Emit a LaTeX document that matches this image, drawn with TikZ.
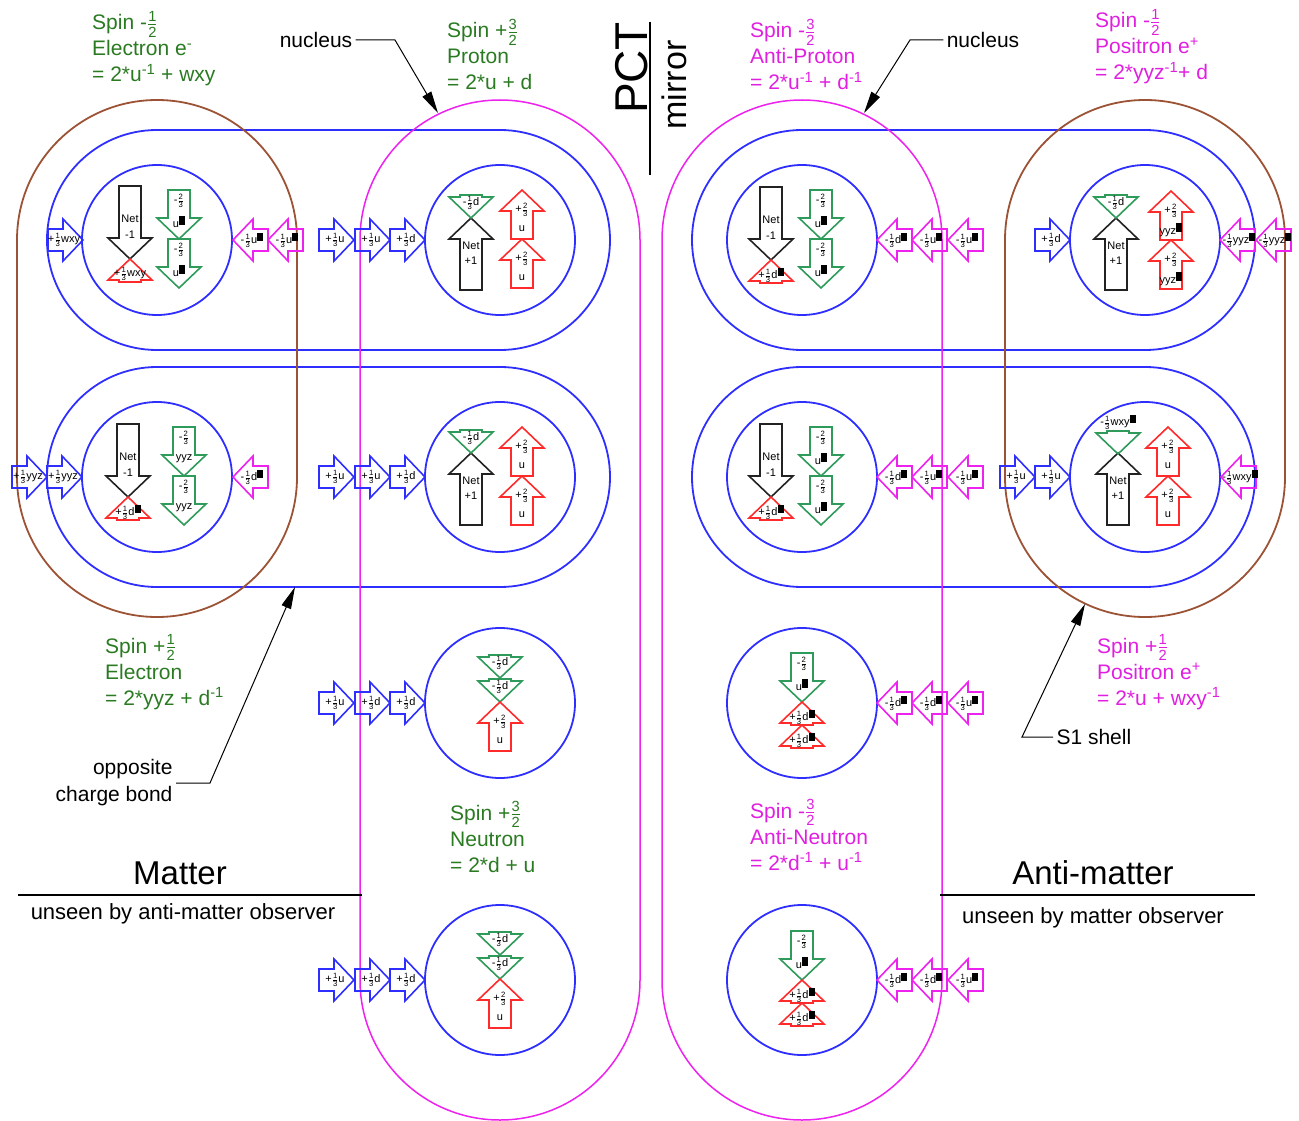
\documentclass[tikz,border=0pt]{standalone}
\usepackage{amsmath}
\usepackage{fontspec}
\setmainfont{Liberation Sans}
\usetikzlibrary{arrows.meta, positioning}
\definecolor{shellblue}{HTML}{2E2EFF}
\definecolor{nucmag}{HTML}{EE22EE}
\definecolor{bondbrown}{HTML}{9C5234}
\definecolor{qgreen}{HTML}{2E9B5A}
\definecolor{qred}{HTML}{FF2B2B}
\definecolor{netgray}{HTML}{222222}
\definecolor{mattergreen}{HTML}{2A7A22}
\definecolor{antimag}{HTML}{E01FE0}

\newcounter{qlbl}
\newcommand{\fr}[2]{\ensuremath{\genfrac{}{}{}{1}{\textrm{#1}}{\textrm{#2}}}}
\newcommand{\blk}{\rule[0.25em]{0.55em}{0.75em}}

\tikzset{
  qline/.style={line width=1.6pt, line join=miter},
  qtxt/.style={font=\fontsize{11}{12}\selectfont, inner sep=0pt},
  spintxt/.style={font=\fontsize{21}{24}\selectfont, inner sep=0pt, anchor=base west},
  plaintxt/.style={font=\fontsize{21}{27}\selectfont},
  shell/.style={shellblue, line width=1.8pt},
  nucleus/.style={nucmag, line width=1.5pt},
  bond/.style={bondbrown, line width=1.8pt},
  leader/.style={line width=1pt, -{Triangle[length=22pt,width=10pt]}}
}

% quark arrow pointing up: x, tip y, colour, upper text, lower text
\newcommand{\quarkup}[5]{%
  \stepcounter{qlbl}%
  \draw[qline,#3] (#1,#2) -- ++(22,21) -- ++(-11,0) -- ++(0,28) -- ++(-22,0) -- ++(0,-28) -- ++(-11,0) -- cycle;
  \path (#1,#2) ++(0,20) node[qtxt] (qa\arabic{qlbl}) {#4} ++(0,19) node[qtxt] (qb\arabic{qlbl}) {#5};}
% quark arrow pointing down: x, top y, colour, upper text, lower text
\newcommand{\quarkdown}[5]{%
  \stepcounter{qlbl}%
  \draw[qline,#3] (#1,#2) ++(-11,0) -- ++(22,0) -- ++(0,28) -- ++(11,0) -- ++(-22,21) -- ++(-22,-21) -- ++(11,0) -- cycle;
  \path (#1,#2) ++(0,11) node[qtxt] (qa\arabic{qlbl}) {#4} ++(0,21) node[qtxt] (qb\arabic{qlbl}) {#5};}
% net spin arrows: x, tip/top y, sign
\newcommand{\netup}[3]{%
  \stepcounter{qlbl}%
  \draw[qline,netgray] (#1,#2) -- ++(22,21) -- ++(-11,0) -- ++(0,51) -- ++(-22,0) -- ++(0,-51) -- ++(-11,0) -- cycle;
  \path (#1,#2) ++(0,28) node[qtxt] (qa\arabic{qlbl}) {Net} ++(0,15) node[qtxt] (qb\arabic{qlbl}) {#3};}
\newcommand{\netdown}[3]{%
  \stepcounter{qlbl}%
  \draw[qline,netgray] (#1,#2) ++(-11,0) -- ++(22,0) -- ++(0,52) -- ++(11,0) -- ++(-22,21) -- ++(-22,-21) -- ++(11,0) -- cycle;
  \path (#1,#2) ++(0,33) node[qtxt] (qa\arabic{qlbl}) {Net} ++(0,16) node[qtxt] (qb\arabic{qlbl}) {#3};}
% flat triangles: x, top/apex y, colour, text
\newcommand{\tridown}[4]{%
  \stepcounter{qlbl}%
  \draw[qline,#3] (#1,#2) ++(-11,0) -- ++(22,0) -- ++(0,2) -- ++(11,0) -- ++(-22,21) -- ++(-22,-21) -- ++(11,0) -- cycle;
  \path (#1,#2) ++(0,8) node[qtxt] (qa\arabic{qlbl}) {#4};}
\newcommand{\triup}[4]{%
  \stepcounter{qlbl}%
  \draw[qline,#3] (#1,#2) -- ++(22,21) -- ++(-11,0) -- ++(0,2) -- ++(-22,0) -- ++(0,-2) -- ++(-11,0) -- cycle;
  \path (#1,#2) ++(0,15) node[qtxt] (qa\arabic{qlbl}) {#4};}
% exchange arrows: tip x, y, colour, text
\newcommand{\sideR}[4]{%
  \stepcounter{qlbl}%
  \draw[qline,#3] (#1,#2) -- ++(-20,-21) -- ++(0,10) -- ++(-15,0) -- ++(0,22) -- ++(15,0) -- ++(0,10) -- cycle;
  \path (#1,#2) ++(-19,0) node[qtxt] (qa\arabic{qlbl}) {#4};}
\newcommand{\sideL}[4]{%
  \stepcounter{qlbl}%
  \draw[qline,#3] (#1,#2) -- ++(20,-21) -- ++(0,10) -- ++(15,0) -- ++(0,22) -- ++(-15,0) -- ++(0,10) -- cycle;
  \path (#1,#2) ++(19,0) node[qtxt] (qa\arabic{qlbl}) {#4};}
% three line particle label: name, x, baseline y, colour, lines
\newcommand{\spinlabel}[7]{%
  \path (#2,#3) node[spintxt,#4] (#1a) {#5} ++(0,26) node[spintxt,#4] (#1b) {#6} ++(0,26) node[spintxt,#4] (#1c) {#7};}

\begin{document}
\begin{tikzpicture}[x=1pt, y=-1pt]
\useasboundingbox (0,0) rectangle (1299,1121);

% shells and bonds
\draw[shell, rounded corners=109.9pt] (47,130) rectangle (610,350);
\draw[shell, rounded corners=109.9pt] (47,367) rectangle (610,587);
\draw[shell, rounded corners=109.9pt] (692,130) rectangle (1255,350);
\draw[shell, rounded corners=109.9pt] (692,367) rectangle (1255,587);
\draw[bond, rounded corners=139.9pt] (17,100) rectangle (297,617);
\draw[bond, rounded corners=139.9pt] (1005,100) rectangle (1285,617);
\draw[nucleus, rounded corners=139.9pt] (360,100) rectangle (640,1120);
\draw[nucleus, rounded corners=139.9pt] (662,100) rectangle (942,1120);

\foreach \cx/\cy in {157/240, 157/477, 500/240, 500/477, 500/703, 500/980,
                     802/240, 802/477, 802/703, 802/980, 1145/240, 1145/477}
  \draw[shell] (\cx,\cy) circle[radius=75pt];

% electron (top)
\netdown{130}{186}{-1}
\triup{130}{259}{qred}{+\fr13wxy}
\quarkdown{179}{190}{qgreen}{-\fr23}{u\blk}
\quarkdown{179}{239}{qgreen}{-\fr23}{u\blk}
\sideR{83}{240}{shellblue}{+\fr13wxy}
\sideL{233}{240}{nucmag}{-\fr13u\blk}
\sideL{268}{240}{nucmag}{-\fr13u\blk}

% electron (bottom)
\netdown{128}{424}{-1}
\triup{128}{497}{qred}{+\fr13d\blk}
\quarkdown{184}{427}{qgreen}{-\fr23}{yyz}
\quarkdown{184}{476}{qgreen}{-\fr23}{yyz}
\sideR{47}{477}{shellblue}{+\fr13yyz}
\sideR{82}{477}{shellblue}{+\fr13yyz}
\sideL{233}{477}{nucmag}{-\fr13d\blk}

% protons
\netup{471}{218}{+1}
\tridown{471}{195}{qgreen}{-\fr13d}
\quarkup{522}{190}{qred}{+\fr23}{u}
\quarkup{522}{239}{qred}{+\fr23}{u}
\sideR{354}{240}{shellblue}{+\fr13u}
\sideR{390}{240}{shellblue}{+\fr13u}
\sideR{425}{240}{shellblue}{+\fr13d}

\netup{471}{453}{+1}
\tridown{471}{430}{qgreen}{-\fr13d}
\quarkup{522}{427}{qred}{+\fr23}{u}
\quarkup{522}{476}{qred}{+\fr23}{u}
\sideR{354}{477}{shellblue}{+\fr13u}
\sideR{390}{477}{shellblue}{+\fr13u}
\sideR{425}{477}{shellblue}{+\fr13d}

% neutrons
\tridown{500}{655}{qgreen}{-\fr13d}
\tridown{500}{679}{qgreen}{-\fr13d}
\quarkup{500}{702}{qred}{+\fr23}{u}
\sideR{354}{703}{shellblue}{+\fr13u}
\sideR{390}{703}{shellblue}{+\fr13d}
\sideR{425}{703}{shellblue}{+\fr13d}

\tridown{500}{932}{qgreen}{-\fr13d}
\tridown{500}{956}{qgreen}{-\fr13d}
\quarkup{500}{979}{qred}{+\fr23}{u}
\sideR{354}{980}{shellblue}{+\fr13u}
\sideR{390}{980}{shellblue}{+\fr13d}
\sideR{425}{980}{shellblue}{+\fr13d}

% anti-protons
\netdown{771}{187}{-1}
\triup{771}{260}{qred}{+\fr13d\blk}
\quarkdown{821}{190}{qgreen}{-\fr23}{u\blk}
\quarkdown{821}{239}{qgreen}{-\fr23}{u\blk}
\sideL{877}{240}{nucmag}{-\fr13d\blk}
\sideL{912}{240}{nucmag}{-\fr13u\blk}
\sideL{948}{240}{nucmag}{-\fr13u\blk}

\netdown{771}{424}{-1}
\triup{771}{497}{qred}{+\fr13d\blk}
\quarkdown{821}{427}{qgreen}{-\fr23}{u\blk}
\quarkdown{821}{476}{qgreen}{-\fr23}{u\blk}
\sideL{877}{477}{nucmag}{-\fr13d\blk}
\sideL{912}{477}{nucmag}{-\fr13u\blk}
\sideL{948}{477}{nucmag}{-\fr13u\blk}

% anti-neutrons
\quarkdown{802}{653}{qgreen}{-\fr23}{u\blk}
\triup{802}{702}{qred}{+\fr13d\blk}
\triup{802}{725}{qred}{+\fr13d\blk}
\sideL{877}{703}{nucmag}{-\fr13d\blk}
\sideL{912}{703}{nucmag}{-\fr13d\blk}
\sideL{948}{703}{nucmag}{-\fr13u\blk}

\quarkdown{802}{931}{qgreen}{-\fr23}{u\blk}
\triup{802}{980}{qred}{+\fr13d\blk}
\triup{802}{1003}{qred}{+\fr13d\blk}
\sideL{877}{980}{nucmag}{-\fr13d\blk}
\sideL{912}{980}{nucmag}{-\fr13d\blk}
\sideL{948}{980}{nucmag}{-\fr13u\blk}

% positron (top)
\netup{1116}{218}{+1}
\tridown{1116}{195}{qgreen}{-\fr13d}
\quarkup{1171}{191}{qred}{+\fr23}{yyz\blk}
\quarkup{1171}{240}{qred}{+\fr23}{yyz\blk}
\sideR{1070}{240}{shellblue}{+\fr13d}
\sideL{1220}{240}{nucmag}{-\fr13yyz\blk}
\sideL{1256}{240}{nucmag}{-\fr13yyz\blk}

% positron (bottom)
\netup{1118}{453}{+1}
\tridown{1118}{431}{qgreen}{}
\node[qtxt] (wxyTri) at (1118,422) {-\fr13wxy\blk};
\quarkup{1168}{427}{qred}{+\fr23}{u}
\quarkup{1168}{476}{qred}{+\fr23}{u}
\sideR{1035}{477}{shellblue}{+\fr13u}
\sideR{1070}{477}{shellblue}{+\fr13u}
\sideL{1221}{477}{nucmag}{-\fr13wxy\blk}

% particle labels
\spinlabel{eTop}{92}{30}{mattergreen}{Spin -\fr12}{Electron e\textsuperscript{-}}{= 2*u\textsuperscript{-1} + wxy}
\spinlabel{pTop}{447}{38}{mattergreen}{Spin +\fr32}{Proton}{= 2*u + d}
\spinlabel{apTop}{750}{38}{antimag}{Spin -\fr32}{Anti-Proton}{= 2*u\textsuperscript{-1} + d\textsuperscript{-1}}
\spinlabel{posTop}{1095}{28}{antimag}{Spin -\fr12}{Positron e\textsuperscript{+}}{= 2*yyz\textsuperscript{-1}+ d}
\spinlabel{eBot}{105}{653}{mattergreen}{Spin +\fr12}{Electron}{= 2*yyz + d\textsuperscript{-1}}
\spinlabel{nBot}{450}{820}{mattergreen}{Spin +\fr32}{Neutron}{= 2*d + u}
\spinlabel{anBot}{750}{818}{antimag}{Spin -\fr32}{Anti-Neutron}{= 2*d\textsuperscript{-1} + u\textsuperscript{-1}}
\spinlabel{posBot}{1097}{653}{antimag}{Spin +\fr12}{Positron e\textsuperscript{+}}{= 2*u + wxy\textsuperscript{-1}}

% pointers
\node[plaintxt] (nucL) at (316,40) {nucleus};
\coordinate (nucLtip) at (438,113);
\draw[leader] (nucL.east) -- (395,40) -- (nucLtip);
\node[plaintxt] (nucR) at (983,40) {nucleus};
\coordinate (nucRtip) at (864,113);
\draw[leader] (nucR.west) -- (910,40) -- (nucRtip);
\node[plaintxt, align=right, anchor=east] (ocb) at (176,783) {opposite\\charge bond};
\coordinate (ocbtip) at (295,587);
\draw[leader] (ocb.east) -- (210,783) -- (ocbtip);
\node[plaintxt, anchor=west] (s1) at (1053,737) {S1 shell};
\coordinate (s1tip) at (1085,604);
\draw[leader] (s1.west) -- (1022,737) -- (s1tip);

% mirror
\node[font=\fontsize{46}{48}\selectfont, rotate=90] (pct) at (632,68) {PCT};
\node[font=\fontsize{34}{36}\selectfont, rotate=90] (mirror) at (674,85) {mirror};
\draw[line width=1.2pt] (650,22) -- (650,175);

% matter / anti-matter
\node[font=\fontsize{33}{36}\selectfont] (matter) at (180,873) {Matter};
\draw[line width=1.2pt] (18,895) -- (362,895);
\node[font=\fontsize{22}{24}\selectfont] (matterSub) at (183,914) {unseen by anti-matter observer};
\node[font=\fontsize{33}{36}\selectfont] (anti) at (1093,873) {Anti-matter};
\draw[line width=1.2pt] (940,895) -- (1255,895);
\node[font=\fontsize{22}{24}\selectfont] (antiSub) at (1093,918) {unseen by matter observer};
\end{tikzpicture}
\end{document}
